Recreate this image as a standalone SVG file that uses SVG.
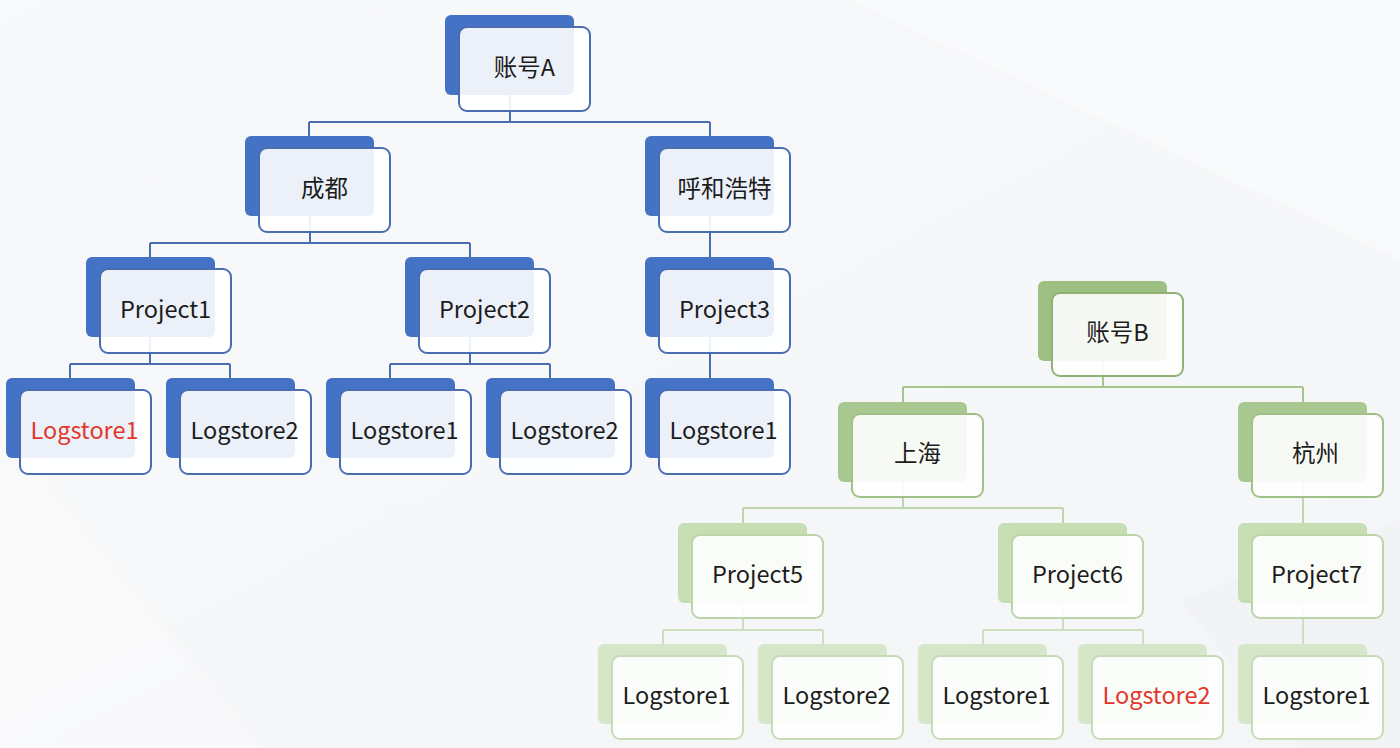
<svg xmlns="http://www.w3.org/2000/svg" width="1400" height="748" viewBox="0 0 1400 748">
<style>
text{font-family:"Noto Sans CJK SC","Noto Sans",sans-serif;font-size:23.5px;fill:#1c1c1c;text-anchor:middle;dominant-baseline:central}
text.red{fill:#E2372B}
.front{fill:#ffffff;fill-opacity:0.9;stroke-width:2}
.bb{fill:#4472C4}
.bf{stroke:#4A6DB2}
.g1b{fill:#9EBF82}.g1f{stroke:#8FB174}
.g2b{fill:#A9C891}.g2f{stroke:#A0C087}
.g3b{fill:#C7DDB4}.g3f{stroke:#BCD4A8}
.g4b{fill:#D6E6C9}.g4f{stroke:#C6DBB6}
.cb{fill:none;stroke:#4A6DB2;stroke-width:2}
.c1{fill:none;stroke:#A6C58D;stroke-width:2}
.c2{fill:none;stroke:#C0D6AD;stroke-width:2}
.c3{fill:none;stroke:#CCDFBE;stroke-width:2}
</style>
<defs>
<linearGradient id="bg" x1="0" y1="0" x2="1" y2="1">
<stop offset="0" stop-color="#F8F9FA"/><stop offset="1" stop-color="#F4F5F7"/>
</linearGradient>
</defs>
<rect width="1400" height="748" fill="url(#bg)"/>
<polygon points="0,420 260,748 0,748" fill="#FAFAFB" opacity="0.7"/>
<polygon points="850,0 1400,0 1400,260" fill="#FAFBFC" opacity="0.7"/>
<polygon points="1180,600 1400,520 1400,748 1300,748" fill="#EEF0F2" opacity="0.4"/>

<g id="connectors">
<path class="cb" d="M510,95V122M309,122H710M309,122V136M710,122V136"/>
<path class="cb" d="M310,216V243M150,243H470M150,243V257M470,243V257"/>
<path class="cb" d="M710,216V257"/>
<path class="cb" d="M150,337V364M70,364H230M70,364V378M230,364V378"/>
<path class="cb" d="M470,337V364M390,364H550M390,364V378M550,364V378"/>
<path class="cb" d="M710,337V378"/>
<path class="c1" d="M1103,361V387M903,387H1303M903,387V402M1303,387V402"/>
<path class="c2" d="M903,482V508M743,508H1063M743,508V523M1063,508V523"/>
<path class="c2" d="M1303,482V523"/>
<path class="c3" d="M743,603V630M663,630H823M663,630V644M823,630V644"/>
<path class="c3" d="M1063,603V630M983,630H1143M983,630V644M1143,630V644"/>
<path class="c3" d="M1303,603V644"/>
</g>

<g id="accountA"><rect class="bb" x="445" y="15" width="129" height="80" rx="6"/><rect class="front bf" x="459" y="27" width="131" height="84" rx="8"/><text x="524.5" y="66">账号A</text></g>
<g id="chengdu"><rect class="bb" x="245" y="136" width="129" height="80" rx="6"/><rect class="front bf" x="259" y="148" width="131" height="84" rx="8"/><text x="324.5" y="187">成都</text></g>
<g id="huhehaote"><rect class="bb" x="645" y="136" width="129" height="80" rx="6"/><rect class="front bf" x="659" y="148" width="131" height="84" rx="8"/><text x="724.5" y="187">呼和浩特</text></g>
<g id="project1"><rect class="bb" x="86" y="257" width="129" height="80" rx="6"/><rect class="front bf" x="100" y="269" width="131" height="84" rx="8"/><text x="165.5" y="308">Project1</text></g>
<g id="project2"><rect class="bb" x="405" y="257" width="129" height="80" rx="6"/><rect class="front bf" x="419" y="269" width="131" height="84" rx="8"/><text x="484.5" y="308">Project2</text></g>
<g id="project3"><rect class="bb" x="645" y="257" width="129" height="80" rx="6"/><rect class="front bf" x="659" y="269" width="131" height="84" rx="8"/><text x="724.5" y="308">Project3</text></g>
<g id="p1-logstore1"><rect class="bb" x="6" y="378" width="129" height="80" rx="6"/><rect class="front bf" x="20" y="390" width="131" height="84" rx="8"/><text class="red" x="84.5" y="429">Logstore1</text></g>
<g id="p1-logstore2"><rect class="bb" x="166" y="378" width="129" height="80" rx="6"/><rect class="front bf" x="180" y="390" width="131" height="84" rx="8"/><text x="244.5" y="429">Logstore2</text></g>
<g id="p2-logstore1"><rect class="bb" x="326" y="378" width="129" height="80" rx="6"/><rect class="front bf" x="340" y="390" width="131" height="84" rx="8"/><text x="404.5" y="429">Logstore1</text></g>
<g id="p2-logstore2"><rect class="bb" x="486" y="378" width="129" height="80" rx="6"/><rect class="front bf" x="500" y="390" width="131" height="84" rx="8"/><text x="564.5" y="429">Logstore2</text></g>
<g id="p3-logstore1"><rect class="bb" x="645" y="378" width="129" height="80" rx="6"/><rect class="front bf" x="659" y="390" width="131" height="84" rx="8"/><text x="723.5" y="429">Logstore1</text></g>

<g id="accountB"><rect class="g1b" x="1038" y="281" width="129" height="80" rx="6"/><rect class="front g1f" x="1052" y="293" width="131" height="83" rx="8"/><text x="1117.5" y="331">账号B</text></g>
<g id="shanghai"><rect class="g2b" x="838" y="402" width="129" height="80" rx="6"/><rect class="front g2f" x="852" y="414" width="131" height="83" rx="8"/><text x="917.5" y="452">上海</text></g>
<g id="hangzhou"><rect class="g2b" x="1238" y="402" width="129" height="80" rx="6"/><rect class="front g2f" x="1252" y="414" width="131" height="83" rx="8"/><text x="1315.5" y="452">杭州</text></g>
<g id="project5"><rect class="g3b" x="678" y="523" width="129" height="80" rx="6"/><rect class="front g3f" x="692" y="535" width="131" height="83" rx="8"/><text x="757.5" y="573">Project5</text></g>
<g id="project6"><rect class="g3b" x="998" y="523" width="129" height="80" rx="6"/><rect class="front g3f" x="1012" y="535" width="131" height="83" rx="8"/><text x="1077.5" y="573">Project6</text></g>
<g id="project7"><rect class="g3b" x="1238" y="523" width="129" height="80" rx="6"/><rect class="front g3f" x="1252" y="535" width="131" height="83" rx="8"/><text x="1316.5" y="573">Project7</text></g>
<g id="p5-logstore1"><rect class="g4b" x="598" y="644" width="129" height="80" rx="6"/><rect class="front g4f" x="612" y="656" width="131" height="83" rx="8"/><text x="676.5" y="694">Logstore1</text></g>
<g id="p5-logstore2"><rect class="g4b" x="758" y="644" width="129" height="80" rx="6"/><rect class="front g4f" x="772" y="656" width="131" height="83" rx="8"/><text x="836.5" y="694">Logstore2</text></g>
<g id="p6-logstore1"><rect class="g4b" x="918" y="644" width="129" height="80" rx="6"/><rect class="front g4f" x="932" y="656" width="131" height="83" rx="8"/><text x="996.5" y="694">Logstore1</text></g>
<g id="p6-logstore2"><rect class="g4b" x="1078" y="644" width="129" height="80" rx="6"/><rect class="front g4f" x="1092" y="656" width="131" height="83" rx="8"/><text class="red" x="1156.5" y="694">Logstore2</text></g>
<g id="p7-logstore1"><rect class="g4b" x="1238" y="644" width="129" height="80" rx="6"/><rect class="front g4f" x="1252" y="656" width="131" height="83" rx="8"/><text x="1316.5" y="694">Logstore1</text></g>
</svg>
